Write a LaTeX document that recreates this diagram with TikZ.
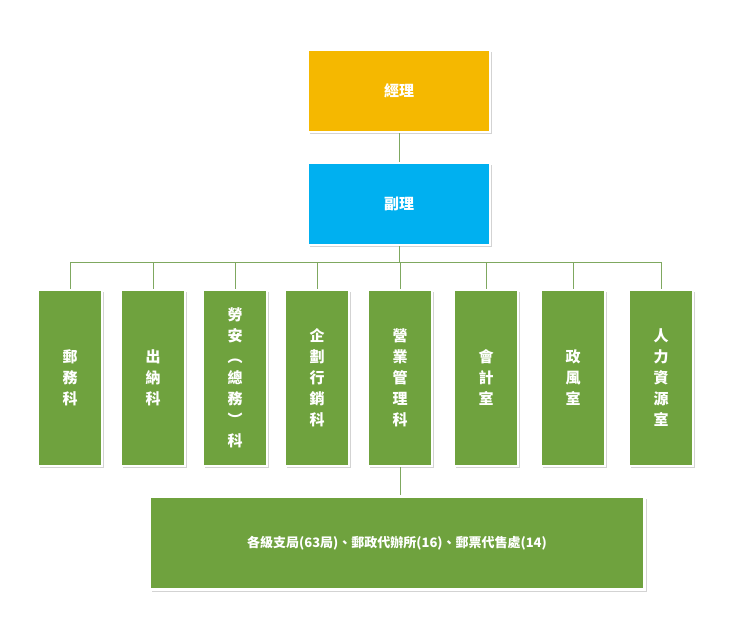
\documentclass[tikz,border=0pt]{standalone}
\usepackage{fontspec}
\setmainfont{Noto Sans CJK TC}
\usetikzlibrary{shadows}
\definecolor{org}{HTML}{F5B800}
\definecolor{blu}{HTML}{00B0F0}
\definecolor{grn}{HTML}{6FA23E}
\definecolor{ln}{HTML}{7FA860}
\begin{document}
\begin{tikzpicture}[x=1pt,y=-1pt,
 box/.style={draw=white,line width=2.5pt,drop shadow={shadow xshift=2pt,shadow yshift=-2pt,opacity=0.35},text=white,font=\bfseries\fontsize{15}{21}\selectfont,align=center,inner sep=0pt},
 gb/.style={box,fill=grn,minimum width=64,minimum height=176},
 conn/.style={draw=ln,line width=1pt}]
\useasboundingbox (0,0) rectangle (738,635);
\node[box,fill=org,minimum width=182,minimum height=82] (jl) at (399,91) {經理};
\node[box,fill=blu,minimum width=182,minimum height=82] (fl) at (399,204) {副理};
\coordinate (bus) at (399,262);
\foreach \n/\x/\t in {a/70/郵\\務\\科, b/153/出\\納\\科, c/235/勞\\安\\︵\\總\\務\\︶\\科, d/317/企\\劃\\行\\銷\\科, e/400/營\\業\\管\\理\\科, f/486/會\\計\\室, g/573/政\\風\\室, h/661/人\\力\\資\\源\\室}{
 \node[gb] (\n) at (\x,378) {};
 \node[text=white,font=\bfseries\fontsize{15}{21}\selectfont,align=center,inner sep=0pt] at (\x,378) {\t};
 \draw[conn] (\n.north) -- (\n.north |- bus);
}
\draw[conn] (jl) -- (fl);
\draw[conn] (fl.south) -- (bus);
\draw[conn] (a.north |- bus) -- (h.north |- bus);
\node[box,fill=grn,minimum width=495,minimum height=93,font=\bfseries\fontsize{13}{16}\selectfont] (bot) at (397,543) {各級支局(63局)、郵政代辦所(16)、郵票代售處(14)};
\draw[conn] (e.south) -- (e.south |- bot.north);
\end{tikzpicture}
\end{document}
